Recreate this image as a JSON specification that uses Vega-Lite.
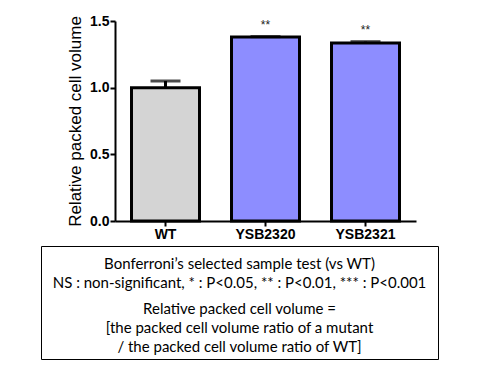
{
  "$schema": "https://vega.github.io/schema/vega-lite/v6.json",
  "padding": {"left": 40, "top": 14, "right": 5, "bottom": 5},
  "spacing": 4,
  "background": "white",
  "config": {"view": {"stroke": null}, "font": "Liberation Sans"},
  "vconcat": [
    {
      "width": 397,
      "height": 200,
      "data": {"values": [
        {"strain": "WT", "value": 1.0, "err": 1.05, "sig": ""},
        {"strain": "YSB2320", "value": 1.38, "err": 1.383, "sig": "**"},
        {"strain": "YSB2321", "value": 1.335, "err": 1.345, "sig": "**"}
      ]},
      "encoding": {
        "x": {
          "field": "strain", "type": "nominal", "sort": null,
          "scale": {"range": [74, 375], "paddingInner": 0.32, "paddingOuter": 0.165},
          "axis": {
            "title": null, "labelAngle": 0, "domainColor": "black", "domainWidth": 2,
            "tickColor": "black", "tickWidth": 2, "tickSize": 5,
            "labelFont": "Liberation Sans", "labelFontWeight": "bold", "labelFontSize": 14,
            "labelColor": "black", "labelPadding": 1
          }
        }
      },
      "layer": [
        {
          "mark": {"type": "bar", "stroke": "black", "strokeWidth": 3},
          "encoding": {
            "y": {
              "field": "value", "type": "quantitative",
              "scale": {"domain": [0, 1.5], "nice": false},
              "axis": {
                "offset": -74,
                "values": [0, 0.5, 1, 1.5], "format": ".1f", "grid": false,
                "domainColor": "black", "domainWidth": 2,
                "tickColor": "black", "tickWidth": 2, "tickSize": 5,
                "labelFont": "Liberation Sans", "labelFontWeight": "bold", "labelFontSize": 14,
                "labelColor": "black", "labelPadding": 1,
                "title": "Relative packed cell volume", "titleFont": "Liberation Sans",
                "titleFontSize": 17, "titleFontWeight": "normal", "titleColor": "black",
                "titlePadding": 5
              }
            },
            "color": {
              "field": "strain", "type": "nominal",
              "scale": {"domain": ["WT", "YSB2320", "YSB2321"], "range": ["#d4d4d4", "#8d8dff", "#8d8dff"]},
              "legend": null
            }
          }
        },
        {
          "mark": {"type": "rule", "strokeWidth": 3, "color": "black"},
          "encoding": {
            "y": {"field": "value", "type": "quantitative"},
            "y2": {"field": "err"}
          }
        },
        {
          "mark": {"type": "tick", "orient": "horizontal", "size": 30, "thickness": 3, "color": "black"},
          "encoding": {"y": {"field": "err", "type": "quantitative"}}
        },
        {
          "mark": {"type": "text", "dy": -12, "fontSize": 12, "color": "#222", "baseline": "middle"},
          "encoding": {
            "y": {"field": "err", "type": "quantitative"},
            "text": {"field": "sig", "type": "nominal"}
          }
        }
      ]
    },
    {
      "width": 397,
      "height": 113,
      "view": {"stroke": "black", "strokeWidth": 1},
      "data": {"values": [
        {"block": "test", "lines": ["Bonferroni’s selected sample test (vs WT)", "NS : non-significant, * : P<0.05, ** : P<0.01, *** : P<0.001"]},
        {"block": "definition", "lines": ["Relative packed cell volume =", "[the packed cell volume ratio of a mutant", "/ the packed cell volume ratio of WT]"]}
      ]},
      "mark": {"type": "text", "align": "center", "font": "Lato", "fontSize": 15, "lineHeight": 19, "baseline": "middle", "color": "black"},
      "encoding": {
        "y": {"field": "block", "type": "nominal", "scale": {"type": "point", "padding": 0, "domain": ["test", "definition"], "range": [17.5, 62.5]}, "axis": null},
        "text": {"field": "lines", "type": "nominal"}
      }
    }
  ]
}
